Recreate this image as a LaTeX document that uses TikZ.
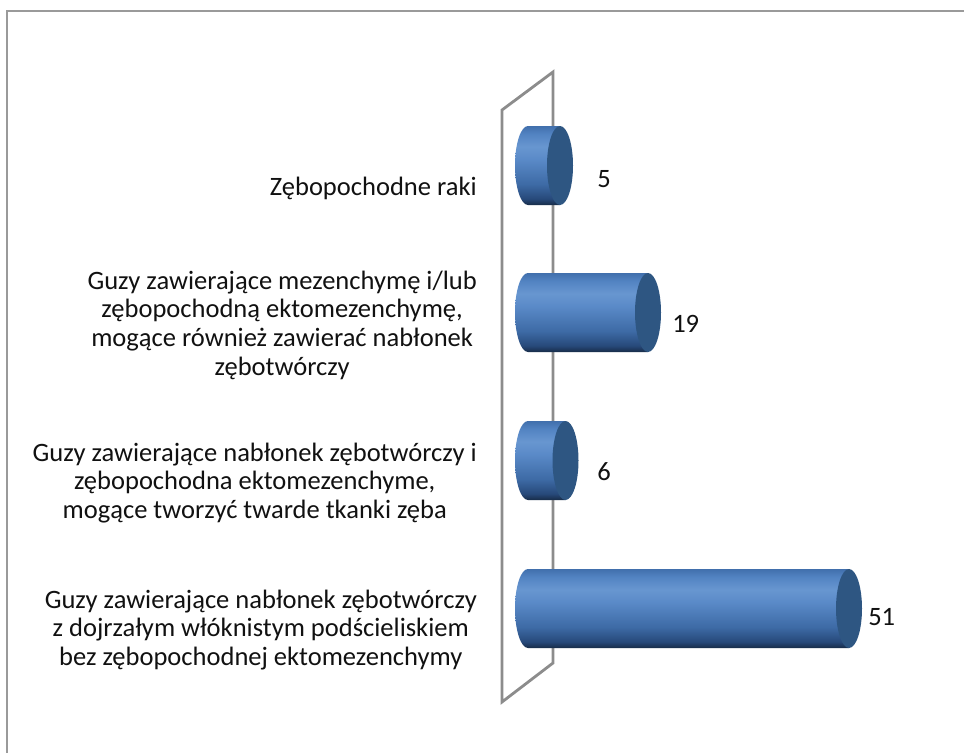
\documentclass[tikz,border=0pt]{standalone}
\usepackage{fontspec}
\setmainfont{Carlito}
\definecolor{cylA}{HTML}{172C48}
\definecolor{cylB}{HTML}{27497A}
\definecolor{cylC}{HTML}{3D6AA5}
\definecolor{cylD}{HTML}{5A8AC8}
\definecolor{cylE}{HTML}{6896D0}
\definecolor{cylF}{HTML}{5283C2}
\definecolor{cylG}{HTML}{416FAC}
\definecolor{capcol}{HTML}{2E5682}
\definecolor{wallcol}{HTML}{8C8C8C}
\definecolor{framecol}{HTML}{9A9A9A}
\definecolor{txtcol}{HTML}{111111}
\pgfdeclareverticalshading{cylbody}{100bp}{color(0bp)=(cylA); color(25bp)=(cylA); color(29bp)=(cylB); color(38bp)=(cylC); color(54bp)=(cylD); color(62bp)=(cylE); color(70bp)=(cylF); color(75bp)=(cylG); color(100bp)=(cylG)}
\newcommand\drawcyl[2]{%
  \shade[shading=cylbody] (528,#1-39.5) -- (#2,#1-39.5) -- (#2,#1+39.5) -- (528,#1+39.5)
    arc[start angle=90,end angle=270,x radius=13,y radius=39.5] -- cycle;
  \fill[capcol] (#2,#1) ellipse [x radius=13, y radius=39.5];
}
\begin{document}
\begin{tikzpicture}[x=0.75pt,y=-0.75pt,
  cat/.style={anchor=east,align=center,inner sep=0pt,text=txtcol,font=\fontsize{19.9}{21.5}\selectfont},
  val/.style={anchor=west,inner sep=0pt,text=txtcol,font=\fontsize{19.9}{21.5}\selectfont}]
\useasboundingbox (0,0) rectangle (964,753);
\fill[white] (0,0) rectangle (964,753);
% outer frame
\draw[framecol,line width=2pt] (7,753) -- (7,11) -- (964,11);
% wall
\draw[wallcol,line width=2.1pt,line join=miter] (502,702) -- (502,110) -- (553,72) -- (553,663) -- cycle;
% bars
\drawcyl{165.5}{560}
\drawcyl{312.5}{648}
\drawcyl{460.5}{565.5}
\drawcyl{608.5}{849}
% category labels
\node[cat] (c1) at (477,188) {Zębopochodne raki};
\node[cat] (c2) at (477,325) {Guzy zawierające mezenchymę i/lub\\zębopochodną ektomezenchymę,\\mogące również zawierać nabłonek\\zębotwórczy};
\node[cat] (c3) at (477,483) {Guzy zawierające nabłonek zębotwórczy i\\zębopochodna ektomezenchyme,\\mogące tworzyć twarde tkanki zęba};
\node[cat] (c4) at (477,630) {Guzy zawierające nabłonek zębotwórczy\\z dojrzałym włóknistym podścieliskiem\\bez zębopochodnej ektomezenchymy};
% value labels
\node[val] (v1) at (597,179) {5};
\node[val] (v2) at (672,324) {19};
\node[val] (v3) at (597,472) {6};
\node[val] (v4) at (868,617) {51};
\end{tikzpicture}
\end{document}
